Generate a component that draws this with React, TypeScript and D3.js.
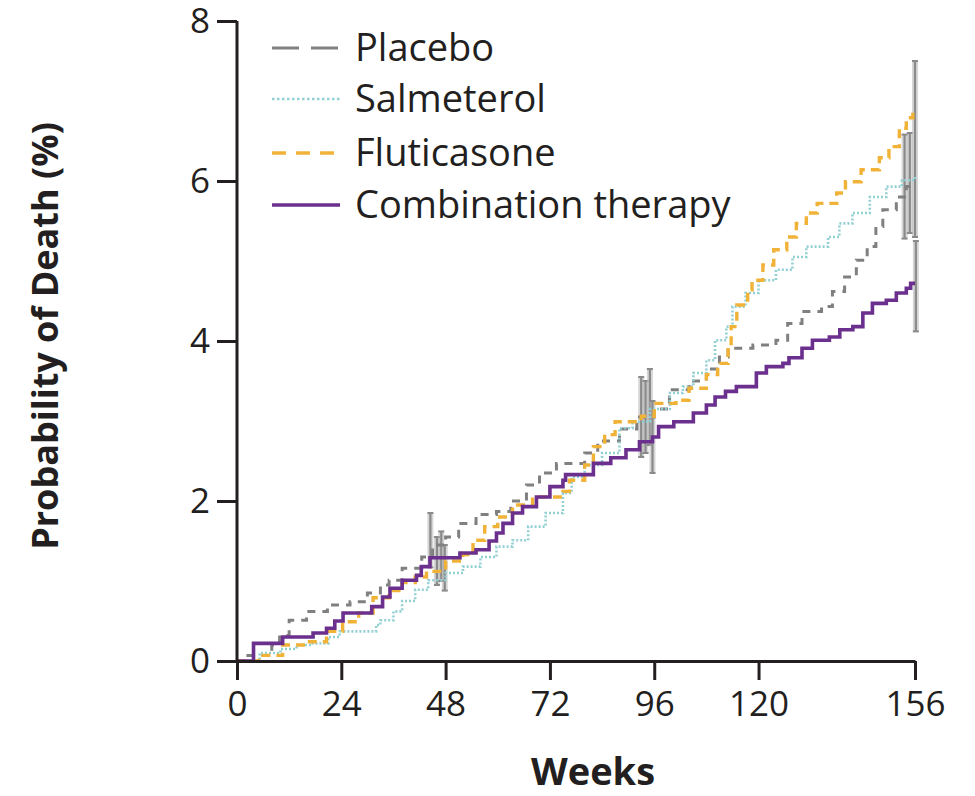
import * as d3 from 'd3';
import { useEffect, useRef } from 'react';

const width = 975;
const height = 796;
const margin = { top: 21, right: 60, bottom: 135, left: 237 };

const xTicks = [0, 24, 48, 72, 96, 120, 156];
const yTicks = [0, 2, 4, 6, 8];

const placeboWeeks = [0, 1.5, 8, 9.8, 12, 16, 20.8, 26, 30, 33, 35, 38, 42.5, 45, 48, 51, 55, 59.7, 63, 66.6, 69.6, 73.5, 80, 83, 88, 92, 96, 99.5, 104, 108, 111, 113, 118.7, 124, 126.7, 130, 134.5, 137, 139.8, 142.5, 145, 147, 148.6, 151.7, 154, 156];
const placeboRisk = [0, 0.07, 0.2, 0.32, 0.51, 0.62, 0.7, 0.74, 0.85, 0.95, 1.01, 1.16, 1.3, 1.45, 1.55, 1.72, 1.83, 1.87, 2.0, 2.2, 2.35, 2.47, 2.6, 2.75, 2.9, 3.05, 3.15, 3.39, 3.5, 3.65, 3.8, 3.91, 3.95, 4.01, 4.22, 4.37, 4.43, 4.62, 4.8, 5.01, 5.18, 5.43, 5.64, 5.8, 5.93, 5.95];

const salmeterolWeeks = [0, 5.2, 10, 13.7, 17.4, 21, 23.6, 32, 33, 36, 38, 41, 44, 48, 52, 56, 59.7, 63.4, 67, 71, 75, 77, 80, 84, 88, 91, 95, 99.6, 102.6, 105, 108, 110, 112.6, 114, 117, 120, 124, 127.8, 131, 136, 138.6, 141.6, 145.6, 149.4, 153, 156];
const salmeterolRisk = [0, 0.1, 0.15, 0.2, 0.22, 0.3, 0.37, 0.45, 0.51, 0.62, 0.75, 0.89, 1.01, 1.1, 1.18, 1.3, 1.43, 1.51, 1.68, 1.85, 2.1, 2.3, 2.45, 2.6, 2.91, 2.99, 3.15, 3.35, 3.43, 3.6, 3.76, 4.01, 4.18, 4.43, 4.6, 4.76, 4.89, 5.05, 5.18, 5.3, 5.47, 5.6, 5.8, 5.93, 6.01, 6.05];

const fluticasoneWeeks = [0, 5, 10.5, 16, 20.6, 24.3, 28, 31.3, 35, 38, 41, 43.6, 48, 52, 54.3, 57, 60, 63.4, 68, 75, 76.5, 80, 82, 84.6, 87, 93, 96, 101, 104, 108, 110.6, 113, 113.7, 115, 117.5, 118.5, 121, 123.5, 126.5, 128.7, 131, 133.5, 138, 140, 143.6, 147.8, 150, 152.4, 154, 155.5, 156];
const fluticasoneRisk = [0, 0.07, 0.2, 0.24, 0.37, 0.49, 0.6, 0.79, 0.88, 0.98, 1.05, 1.12, 1.25, 1.33, 1.51, 1.68, 1.8, 1.95, 2.05, 2.12, 2.26, 2.45, 2.68, 2.83, 2.99, 3.06, 3.22, 3.26, 3.41, 3.58, 3.72, 3.93, 4.18, 4.45, 4.64, 4.76, 4.95, 5.14, 5.3, 5.47, 5.6, 5.72, 5.85, 5.99, 6.14, 6.29, 6.43, 6.66, 6.79, 6.88, 6.88];

const combinationWeeks = [0, 3.8, 10.5, 17.5, 20.6, 22.5, 24.4, 31, 33.5, 35.2, 38, 41.3, 42.4, 44.4, 51.3, 55, 58, 59.7, 61.2, 63.4, 65.7, 68.9, 72, 75, 75.6, 82, 86, 89.5, 92.6, 95.6, 97, 100.5, 105, 108, 110, 112.4, 114.9, 119.5, 121.8, 125.6, 127, 130, 132.4, 136.3, 138.7, 141.7, 144, 146.2, 149.4, 151.7, 154, 155, 156];
const combinationRisk = [0, 0.22, 0.3, 0.35, 0.41, 0.5, 0.6, 0.68, 0.8, 0.91, 1.01, 1.07, 1.18, 1.29, 1.35, 1.39, 1.5, 1.6, 1.72, 1.85, 1.93, 2.05, 2.18, 2.26, 2.33, 2.47, 2.54, 2.64, 2.74, 2.8, 2.93, 2.99, 3.1, 3.2, 3.3, 3.37, 3.43, 3.6, 3.68, 3.72, 3.79, 3.91, 4.01, 4.05, 4.14, 4.18, 4.35, 4.47, 4.51, 4.6, 4.66, 4.72, 4.72];

// 95% CI bars at weeks 48, 96 and 156
const ciWeeks = [44.5, 46, 47, 47.8, 93, 94, 95, 95.6, 153.6, 154.8, 156, 156.2];
const ciLower = [1.17, 0.95, 1.0, 0.88, 2.55, 2.6, 2.7, 2.35, 5.28, 5.35, 5.3, 4.12];
const ciUpper = [1.85, 1.55, 1.62, 1.45, 3.55, 3.5, 3.65, 3.25, 6.58, 6.6, 7.5, 5.25];

const series = [
  { name: 'Placebo', weeks: placeboWeeks, risk: placeboRisk, color: '#808080', dash: '8 7', legendDash: '27 12', widthPx: 3 },
  { name: 'Salmeterol', weeks: salmeterolWeeks, risk: salmeterolRisk, color: '#93d0d3', dash: '2 2', legendDash: '2.5 2.5', widthPx: 2.6 },
  { name: 'Fluticasone', weeks: fluticasoneWeeks, risk: fluticasoneRisk, color: '#f1b238', dash: '9 6', legendDash: '14 10', widthPx: 3.4 },
  { name: 'Combination therapy', weeks: combinationWeeks, risk: combinationRisk, color: '#6b2f8e', dash: null, legendDash: null, widthPx: 3.6 },
];

const font = '"Open Sans", "Noto Sans", sans-serif';
const ink = '#231f20';

export default function App() {
  const xAxisRef = useRef<SVGGElement>(null);
  const yAxisRef = useRef<SVGGElement>(null);

  const x = d3.scaleLinear().domain([0, 156]).range([margin.left, width - margin.right]);
  const y = d3.scaleLinear().domain([0, 8]).range([height - margin.bottom, margin.top]);

  const line = d3
    .line<[number, number]>()
    .x((d) => x(d[0]))
    .y((d) => y(d[1]))
    .curve(d3.curveStepAfter);

  useEffect(() => {
    const styleAxis = (group) => {
      group.selectAll('path, line').attr('stroke', ink).attr('stroke-width', 3);
      group
        .selectAll('text')
        .attr('fill', ink)
        .style('font-family', font)
        .style('font-size', '35px');
    };

    d3.select(xAxisRef.current)
      .call(d3.axisBottom(x).tickValues(xTicks).tickSize(19).tickSizeOuter(0).tickPadding(11))
      .call(styleAxis);

    d3.select(yAxisRef.current)
      .call(d3.axisLeft(y).tickValues(yTicks).tickSize(20).tickSizeOuter(0).tickPadding(7))
      .call(styleAxis)
      .call((group) => group.select('.domain').attr('d', `M0,${y(0)}V${y(8)}`));
  }, []);

  const legendY = [48, 99, 153, 205];

  return (
    <div style={{ position: 'absolute', left: 0, top: 0 }}>
      <svg width={width} height={height} style={{ display: 'block', background: '#fff' }}>
        {ciWeeks.map((week, index) => (
          <g key={`ci-${index}`}>
            <rect
              x={x(week) - 3}
              y={y(ciUpper[index])}
              width={6}
              height={y(ciLower[index]) - y(ciUpper[index])}
              fill="#b5b5b5"
              opacity={0.55}
            />
            <line x1={x(week)} x2={x(week)} y1={y(ciUpper[index])} y2={y(ciLower[index])} stroke="#8a8a8a" strokeWidth={2.2} />
            <line x1={x(week) - 3} x2={x(week) + 3} y1={y(ciUpper[index])} y2={y(ciUpper[index])} stroke="#8a8a8a" strokeWidth={2} />
            <line x1={x(week) - 3} x2={x(week) + 3} y1={y(ciLower[index])} y2={y(ciLower[index])} stroke="#8a8a8a" strokeWidth={2} />
          </g>
        ))}

        {series.map((s) => (
          <path
            key={s.name}
            d={line(s.weeks.map((w, i) => [w, s.risk[i]] as [number, number])) || ''}
            fill="none"
            stroke={s.color}
            strokeWidth={s.widthPx}
            strokeDasharray={s.dash || undefined}
          />
        ))}

        <g ref={xAxisRef} transform={`translate(0, ${y(0)})`} />
        <g ref={yAxisRef} transform={`translate(${margin.left}, 0)`} />

        {series.map((s, i) => (
          <g key={`legend-${s.name}`}>
            <line x1={272} x2={340} y1={legendY[i]} y2={legendY[i]} stroke={s.color} strokeWidth={s.widthPx} strokeDasharray={s.legendDash || undefined} />
            <text x={355} y={legendY[i]} dy="0.35em" fontFamily={font} fontSize={38} fill={ink}>
              {s.name}
            </text>
          </g>
        ))}

        <text
          transform={`translate(58, ${(y(0) + y(8)) / 2 - 5}) rotate(-90)`}
          textAnchor="middle"
          fontFamily={font}
          fontWeight={700}
          fontSize={36}
          fill={ink}
        >
          Probability of Death (%)
        </text>
        <text x={593} y={785} textAnchor="middle" fontFamily={font} fontWeight={700} fontSize={38} fill={ink}>
          Weeks
        </text>
      </svg>
    </div>
  );
}
